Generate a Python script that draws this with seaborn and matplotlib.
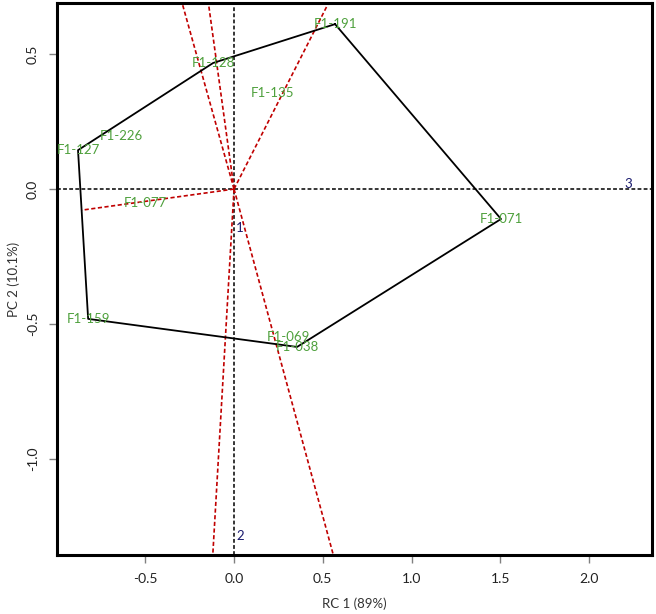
import matplotlib
matplotlib.use("Agg")
import matplotlib.pyplot as plt
import seaborn as sns
import numpy as np
import pandas as pd

# genotype scores (PC1, PC2)
genotypes = ["F1-191", "F1-071", "F1-038", "F1-159", "F1-127", "F1-128",
             "F1-226", "F1-135", "F1-077", "F1-069"]
pc1 = [0.569, 1.504, 0.355, -0.822, -0.879, -0.118, -0.637, 0.214, -0.501, 0.304]
pc2 = [0.611, -0.111, -0.585, -0.481, 0.144, 0.467, 0.196, 0.356, -0.052, -0.548]

# polygon vertices (order around the hull)
hull = ["F1-191", "F1-071", "F1-038", "F1-159", "F1-127", "F1-128"]
# whether each ray (perpendicular to a hull side) runs to the plot edge
ray_to_edge = [True, True, True, False, True, True]

# environment labels
envs = ["1", "2", "3"]
env_x = [0.034, 0.034, 2.22]
env_y = [-0.144, -1.285, 0.019]

xlim = (-0.997, 2.355)
ylim = (-1.356, 0.689)

sns.set_style("white")
plt.rcParams['font.family'] = ['Lato', 'DejaVu Sans']

df = pd.DataFrame({"gen": genotypes, "pc1": pc1, "pc2": pc2}).set_index("gen")
poly = df.loc[hull + [hull[0]]].reset_index()

fig = plt.figure(figsize=(6.56, 6.14), dpi=100)
ax = fig.add_axes([0.087, 0.096, 0.907, 0.899])

# axes through origin
ax.axhline(0, color="black", lw=1.1, ls=(0, (2.5, 1.5)), zorder=1)
ax.axvline(0, color="black", lw=1.1, ls=(0, (2.5, 1.5)), zorder=1)

# rays perpendicular to each polygon side
for i in range(len(hull)):
    a = df.loc[hull[i]].values
    b = df.loc[hull[(i + 1) % len(hull)]].values
    d = b - a
    t = -np.dot(a, d) / np.dot(d, d)
    foot = a + t * d
    if ray_to_edge[i]:
        u = foot / np.linalg.norm(foot)
        ends = []
        for k, lim in enumerate([xlim, ylim]):
            if u[k] > 0:
                ends.append(lim[1] / u[k])
            elif u[k] < 0:
                ends.append(lim[0] / u[k])
        end = u * min(ends)
    else:
        end = foot
    ax.plot([0, end[0]], [0, end[1]], color="#C00000", lw=1.2, ls=(0, (2.5, 1.5)), zorder=2)

sns.lineplot(data=poly, x="pc1", y="pc2", sort=False, estimator=None,
             color="black", lw=1.3, ax=ax, zorder=3)

for g, x, y in zip(genotypes, pc1, pc2):
    ax.text(x, y, g, color="#4EA03C", fontsize=9.5, ha="center", va="center", zorder=4)
for e, x, y in zip(envs, env_x, env_y):
    ax.text(x, y, e, color="#1A1A6E", fontsize=9.5, ha="center", va="center", zorder=4)

ax.set_xlim(*xlim)
ax.set_ylim(*ylim)
ax.set_xticks([-0.5, 0.0, 0.5, 1.0, 1.5, 2.0])
ax.set_yticks([-1.0, -0.5, 0.0, 0.5])
ax.set_xticklabels(["-0.5", "0.0", "0.5", "1.0", "1.5", "2.0"])
ax.set_yticklabels(["-1.0", "-0.5", "0.0", "0.5"], rotation=90, va="center")
ax.tick_params(axis="both", direction="out", length=6, width=1, color="#808080",
               labelsize=10, labelcolor="#222222", pad=7, bottom=True, left=True)
for s in ax.spines.values():
    s.set_linewidth(2.2)
    s.set_color("black")

ax.set_xlabel("RC 1 (89%)", fontsize=9.5, color="#333333", labelpad=9)
ax.set_ylabel("PC 2 (10.1%)", fontsize=9.5, color="#333333", labelpad=5)

fig.savefig("out.png", dpi=100)
